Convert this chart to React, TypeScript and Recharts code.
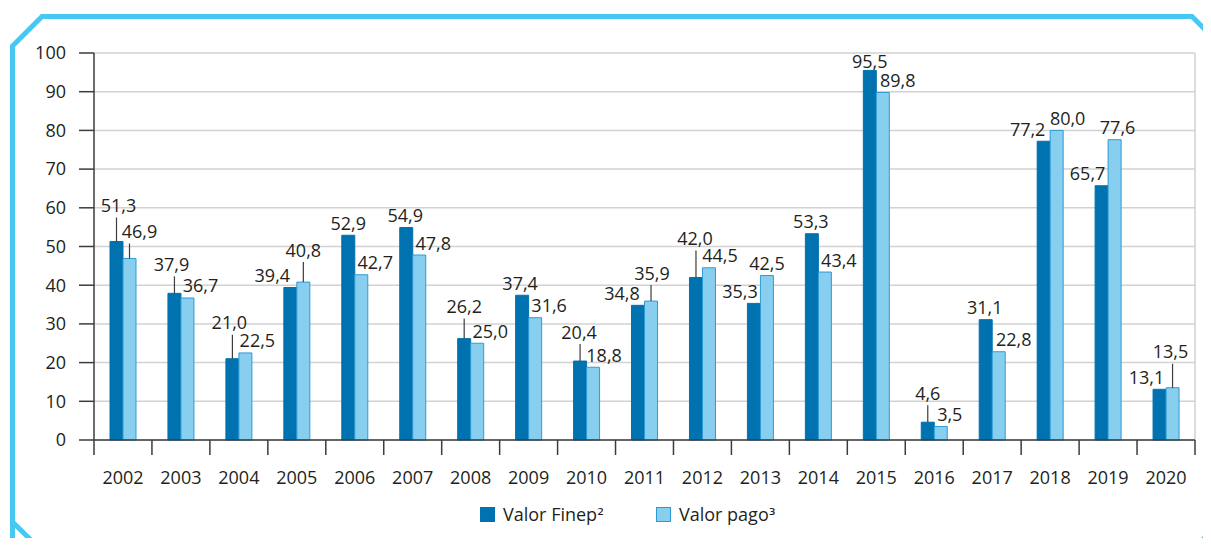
import React from 'react';
import { BarChart, Bar, XAxis, YAxis, CartesianGrid, LabelList } from 'recharts';

const years = ['2002', '2003', '2004', '2005', '2006', '2007', '2008', '2009', '2010', '2011', '2012', '2013', '2014', '2015', '2016', '2017', '2018', '2019', '2020'];
const valorFinep = [51.3, 37.9, 21.0, 39.4, 52.9, 54.9, 26.2, 37.4, 20.4, 34.8, 42.0, 35.3, 53.3, 95.5, 4.6, 31.1, 77.2, 65.7, 13.1];
const valorPago = [46.9, 36.7, 22.5, 40.8, 42.7, 47.8, 25.0, 31.6, 18.8, 35.9, 44.5, 42.5, 43.4, 89.8, 3.5, 22.8, 80.0, 77.6, 13.5];
const yTicks = [0, 10, 20, 30, 40, 50, 60, 70, 80, 90, 100];
const seriesNames = ['Valor Finep²', 'Valor pago³'];

// label layout per bar: [dx from bar centre, leader line length, extra dy]
const finepLabelLayout: number[][] = [
  [2, 24, 0], [-3, 17, 0], [-3, 24, 0], [-18, 0, 0], [0, 0, 0], [-1, 0, 0], [0, 20, 0], [-2, 0, 0], [-1, 17, 0], [-16, 0, 0],
  [-1, 27, 0], [-14, 0, 0], [-1, 0, 0], [0, 0, 3], [0, 17, 0], [-1, 0, 0], [-16, 0, 0], [-14, 0, 0], [-13, 0, 0],
];
const pagoLabelLayout: number[][] = [
  [10, 15, 0], [13, 0, 0], [12, 0, 0], [0, 20, 0], [14, 0, 0], [14, 0, 0], [13, 0, 0], [14, 0, 0], [11, 0, 0], [1, 16, 0],
  [11, 0, 0], [0, 0, 0], [14, 0, 0], [15, 0, 0], [9, 0, 0], [15, 0, 0], [11, 0, 0], [3, 0, 0], [-2, 24, 0],
];

const W = 1211;
const H = 546;
const X_AXIS_H = 106;
const Y_AXIS_W = 94;
const M = { top: 53, right: 16, bottom: 0, left: 0 };
const PLOT_RIGHT = W - M.right;
const BAND = (W - M.right - Y_AXIS_W) / years.length;

const DARK = '#0072AF';
const LIGHT = '#88CFEF';
const LIGHT_STROKE = '#2C9BD5';
const TEXT = '#231F20';
const AXIS = '#3C3C3C';
const GRID = '#D2D2D2';
const FRAME = '#45C8F2';
const FONT = '"Open Sans", "Noto Sans", sans-serif';
const FS = 18;

const data = years.map((y, i) => ({ year: y, finep: valorFinep[i], pago: valorPago[i] }));

const fmt = (v: number) => v.toFixed(1).replace('.', ',');

const makeLabel = (layout: number[][]) => (props: any) => {
  const { x, y, width, value, index } = props;
  const [dx, lead, extra] = layout[index] || [0, 0, 0];
  const cx = Number(x) + Number(width) / 2;
  const top = Number(y);
  const centerY = top - lead - 12 + (extra || 0);
  return (
    <g>
      {lead > 0 && (
        <line x1={cx} x2={cx} y1={top} y2={top - lead} stroke={AXIS} strokeWidth={1.2} />
      )}
      <text x={cx + dx} y={centerY + 6.5} textAnchor="middle" fontFamily={FONT} fontSize={FS} fill={TEXT}>
        {fmt(Number(value))}
      </text>
    </g>
  );
};

const XTick = (props: any) => {
  const { x, y, payload, index } = props;
  const last = index === years.length - 1;
  const bx = Number(x) - BAND / 2;
  return (
    <g>
      <line x1={bx} x2={bx} y1={y} y2={y + 15} stroke={AXIS} strokeWidth={1.5} />
      {last && <line x1={bx + BAND} x2={bx + BAND} y1={y} y2={y + 15} stroke={AXIS} strokeWidth={1.5} />}
      <text x={x} y={y + 44} textAnchor="middle" fontFamily={FONT} fontSize={FS} fill={TEXT}>
        {payload.value}
      </text>
    </g>
  );
};

const LegendName = ({ name }: { name: string }) => {
  const base = name.slice(0, -1);
  const sup = name.slice(-1);
  return (
    <span>
      {base}
      <span style={{ fontFamily: '"DejaVu Sans", sans-serif', fontSize: 17 }}>{sup}</span>
    </span>
  );
};

export default function App() {
  return (
    <div style={{ position: 'relative', width: W, height: H, margin: -8, background: '#fff', overflow: 'hidden' }}>
      <svg width={W} height={H} style={{ position: 'absolute', left: 0, top: 0 }}>
        <path
          d="M 12.5 546 L 12.5 46 L 42 16.5 L 1192 16.5 L 1216 40.5 M 1194 549 L 1214 528"
          fill="none"
          stroke={FRAME}
          strokeWidth={5}
        />
        <path d="M 12.5 46 L 12.5 522 L 40 549" fill="none" stroke={FRAME} strokeWidth={5} />
      </svg>
      <div style={{ position: 'absolute', left: 0, top: 0 }}>
        <BarChart width={W} height={H} data={data} margin={M} barSize={13} barGap={0}>
          <CartesianGrid vertical={true} verticalPoints={[PLOT_RIGHT]} stroke={GRID} strokeWidth={1.5} />
          <XAxis
            dataKey="year"
            tickLine={false}
            tickSize={0}
            tickMargin={0}
            axisLine={{ stroke: AXIS, strokeWidth: 1.5 }}
            tick={<XTick />}
            interval={0}
            height={X_AXIS_H}
          />
          <YAxis
            width={Y_AXIS_W}
            domain={[0, 100]}
            ticks={yTicks}
            interval={0}
            tickSize={15}
            tickMargin={13}
            tickLine={{ stroke: AXIS, strokeWidth: 1.5 }}
            axisLine={{ stroke: AXIS, strokeWidth: 1.5 }}
            tick={{ fontFamily: FONT, fontSize: FS, fill: TEXT }}
          />
          <Bar dataKey="finep" name={seriesNames[0]} fill={DARK} stroke={DARK} strokeWidth={1} isAnimationActive={false}>
            <LabelList dataKey="finep" content={makeLabel(finepLabelLayout)} />
          </Bar>
          <Bar dataKey="pago" name={seriesNames[1]} fill={LIGHT} stroke={LIGHT_STROKE} strokeWidth={1} isAnimationActive={false}>
            <LabelList dataKey="pago" content={makeLabel(pagoLabelLayout)} />
          </Bar>
        </BarChart>
      </div>
      <div
        style={{
          position: 'absolute',
          left: 480,
          top: 503,
          display: 'flex',
          alignItems: 'center',
          fontFamily: FONT,
          fontSize: FS,
          color: TEXT,
          lineHeight: '22px',
          whiteSpace: 'nowrap',
        }}
      >
        <span style={{ display: 'inline-block', width: 15, height: 15, background: DARK, marginRight: 8 }} />
        <span style={{ marginRight: 52 }}>
          <LegendName name={seriesNames[0]} />
        </span>
        <span
          style={{
            display: 'inline-block',
            width: 13,
            height: 13,
            background: LIGHT,
            border: `1px solid ${LIGHT_STROKE}`,
            marginRight: 8,
          }}
        />
        <LegendName name={seriesNames[1]} />
      </div>
    </div>
  );
}
